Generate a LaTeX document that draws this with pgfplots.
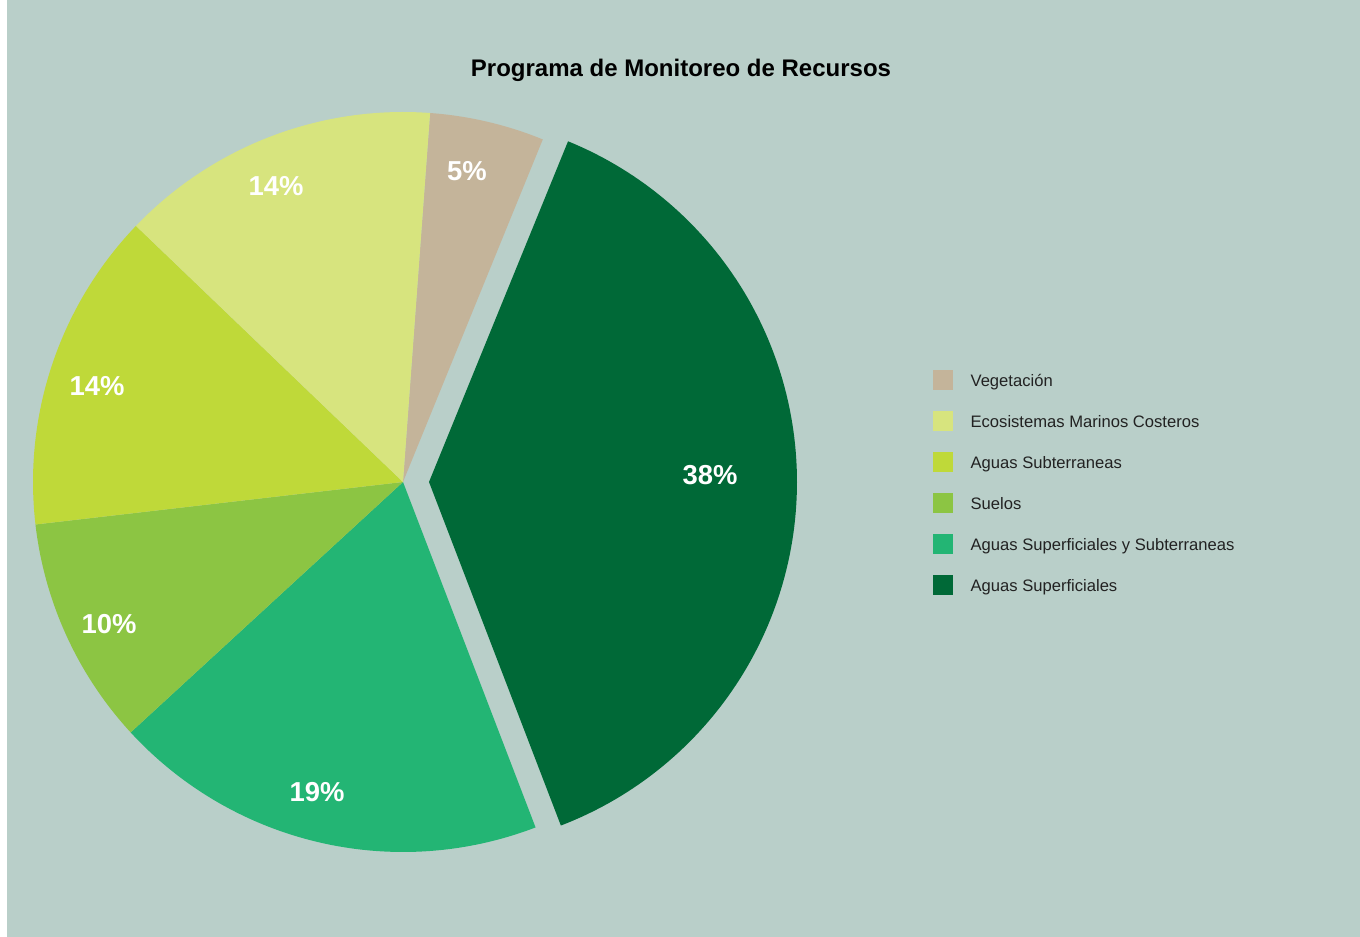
\documentclass[border=0pt]{standalone}
\usepackage{pgfplots}
\pgfplotsset{compat=1.18}
\usepackage{fontspec}
\setmainfont{Liberation Sans}
\definecolor{bg}{HTML}{B9CFC9}
\definecolor{cVeg}{HTML}{C4B49A}
\definecolor{cEco}{HTML}{D7E47E}
\definecolor{cSubt}{HTML}{BFD939}
\definecolor{cSue}{HTML}{8CC543}
\definecolor{cSupSub}{HTML}{23B574}
\definecolor{cSup}{HTML}{006937}
\definecolor{tgray}{HTML}{222222}
\begin{document}
\begin{tikzpicture}
% slice values (percent), clockwise from the top
\def\vVeg{5}\def\vSup{38}\def\vSupSub{19}\def\vSue{10}\def\vSubt{14}\def\vEco{14}
\pgfmathsetmacro\aA{85.8}
\pgfmathsetmacro\aB{\aA-3.6*\vVeg}
\pgfmathsetmacro\aC{\aB-3.6*\vSup}
\pgfmathsetmacro\aD{\aC-3.6*\vSupSub}
\pgfmathsetmacro\aE{\aD-3.6*\vSue}
\pgfmathsetmacro\aF{\aE-3.6*\vSubt}
\pgfmathsetmacro\aG{\aF-3.6*\vEco}
\begin{axis}[
  width=680pt, height=468.5pt, scale only axis,
  xmin=0, xmax=1360, ymin=0, ymax=937,
  hide axis, clip=false,
  legend cell align=left,
  legend image code/.code={\fill[#1] (0pt,-3.8pt) rectangle (9.5pt,5.7pt);},
  legend style={at={(axis cs:933,567)}, anchor=north west, draw=none, fill=none,
    inner sep=0pt, row sep=10.55pt,
    font=\fontsize{8.3}{10}\selectfont\color{tgray},
    nodes={inner sep=0pt},
    /tikz/every odd column/.append style={column sep=8.7pt}},
]
\fill[bg] (axis cs:0,0) rectangle (axis cs:1360,937);
\fill[white] (axis cs:0,0) rectangle (axis cs:7,937);

\addplot[fill=cVeg, draw=none, domain=\aB:\aA, samples=40, forget plot]
  ({403+370*cos(x)},{455+370*sin(x)}) -- (axis cs:403,455) -- cycle;
\addplot[fill=cSup, draw=none, domain=\aC:\aB, samples=120, forget plot]
  ({429+368*cos(x)},{455+368*sin(x)}) -- (axis cs:429,455) -- cycle;
\addplot[fill=cSupSub, draw=none, domain=\aD:\aC, samples=80, forget plot]
  ({403+370*cos(x)},{455+370*sin(x)}) -- (axis cs:403,455) -- cycle;
\addplot[fill=cSue, draw=none, domain=\aE:\aD, samples=50, forget plot]
  ({403+370*cos(x)},{455+370*sin(x)}) -- (axis cs:403,455) -- cycle;
\addplot[fill=cSubt, draw=none, domain=\aF:\aE, samples=60, forget plot]
  ({403+370*cos(x)},{455+370*sin(x)}) -- (axis cs:403,455) -- cycle;
\addplot[fill=cEco, draw=none, domain=\aG:\aF, samples=60, forget plot]
  ({403+370*cos(x)},{455+370*sin(x)}) -- (axis cs:403,455) -- cycle;

\begin{scope}[every node/.style={text=white, font=\fontsize{13.7}{16}\selectfont\bfseries}]
\node at (axis cs:467,766) {5\%};
\node at (axis cs:710,461.5) {38\%};
\node at (axis cs:317,145) {19\%};
\node at (axis cs:109,313) {10\%};
\node at (axis cs:97,551) {14\%};
\node at (axis cs:276,751) {14\%};
\end{scope}

\node[font=\fontsize{12}{14}\selectfont\bfseries, text=black] at (axis cs:681,867) {Programa de Monitoreo de Recursos};

\addlegendimage{cVeg}\addlegendentry{Vegetación}
\addlegendimage{cEco}\addlegendentry{Ecosistemas Marinos Costeros}
\addlegendimage{cSubt}\addlegendentry{Aguas Subterraneas}
\addlegendimage{cSue}\addlegendentry{Suelos}
\addlegendimage{cSupSub}\addlegendentry{Aguas Superficiales y Subterraneas}
\addlegendimage{cSup}\addlegendentry{Aguas Superficiales}
\end{axis}
\end{tikzpicture}
\end{document}
